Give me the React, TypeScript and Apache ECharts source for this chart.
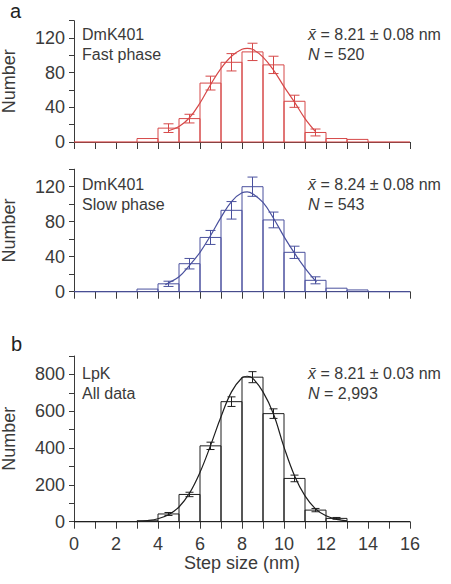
import React, { useEffect, useRef } from "react";
import * as echarts from "echarts";

// Bin edges (nm)
const binEdges = [0, 1, 2, 3, 4, 5, 6, 7, 8, 9, 10, 11, 12, 13, 14, 15, 16];

// Panel a, fast phase
const fastCounts = [0, 0, 0, 4, 16, 27, 68, 92, 104, 89, 47, 11, 4, 3, 0, 0];
const fastErr = [0, 0, 0, 0, 5, 5, 8, 10, 10, 10, 7, 4, 0, 0, 0, 0];
const fastCurveX = [4.5, 5, 5.5, 6, 6.5, 7, 7.5, 8, 8.25, 8.5, 9, 9.5, 10, 10.5, 11, 11.5];
const fastCurveY = [13, 18, 28, 45, 66, 85, 99, 107, 108, 107, 98, 83, 64, 46, 27, 12];

// Panel a, slow phase
const slowCounts = [0, 0, 0, 3, 9, 32, 62, 93, 120, 82, 45, 13, 4, 2, 0, 0];
const slowErr = [0, 0, 0, 0, 3, 6, 8, 10, 11, 9, 7, 4, 0, 0, 0, 0];
const slowCurveX = [4.35, 4.5, 5, 5.5, 6, 6.5, 7, 7.5, 8, 8.25, 8.5, 9, 9.5, 10, 10.5, 11, 11.55];
const slowCurveY = [8, 10, 17, 30, 45, 64, 85, 103, 113, 114, 112, 102, 84, 63, 44, 27, 11];

// Panel b, all data
const allCounts = [0, 0, 0, 5, 42, 148, 412, 652, 785, 587, 235, 63, 18, 0, 0, 0];
const allErr = [0, 0, 0, 0, 8, 12, 20, 26, 30, 26, 18, 9, 5, 0, 0, 0];
const allCurveX = [3, 3.5, 4, 4.5, 5, 5.5, 6, 6.5, 7, 7.5, 8, 8.25, 8.5, 9, 9.5, 10, 10.5, 11, 11.5, 12, 12.5, 13];
const allCurveY = [2, 6, 16, 38, 80, 155, 268, 413, 570, 705, 782, 790, 780, 705, 585, 405, 250, 140, 70, 32, 13, 5];

const xTickLabels = ["0", "2", "4", "6", "8", "10", "12", "14", "16"];

const RED = "#d64848";
const BLUE = "#4a519e";
const BLACK = "#1e1e1e";
const AXIS = "#3a3a3a";
const TEXT = "#3a3a3a";
const FONT = "Liberation Sans, Arial, sans-serif";

function histData(counts: number[]) {
  return counts.map((c, i) => [binEdges[i], binEdges[i + 1], c]);
}
function errData(counts: number[], err: number[]) {
  const out: number[][] = [];
  counts.forEach((c, i) => {
    if (err[i] > 0) out.push([(binEdges[i] + binEdges[i + 1]) / 2, c, err[i]]);
  });
  return out;
}
function curveData(xs: number[], ys: number[]) {
  return xs.map((x, i) => [x, ys[i]]);
}

export default function App() {
  const ref = useRef<HTMLDivElement>(null);
  useEffect(() => {
    if (!ref.current) return;
    const chart = echarts.init(ref.current, undefined, { renderer: "svg" });

    const grids = [
      { left: 74, top: 20.7, width: 336, height: 121.3, containLabel: false, outerBoundsMode: "none" },
      { left: 74, top: 169.2, width: 336, height: 122.5, containLabel: false, outerBoundsMode: "none" },
      { left: 74, top: 356, width: 336, height: 165.7, containLabel: false, outerBoundsMode: "none" },
    ];

    const xAxes = grids.map((_, gi) => ({
      type: "value",
      gridIndex: gi,
      min: 0,
      max: 16,
      interval: 1,
      splitLine: { show: false },
      axisLine: { show: true, lineStyle: { color: AXIS, width: 1 } },
      axisTick: { show: true, inside: false, length: 7, lineStyle: { color: AXIS, width: 1 } },
      axisLabel: {
        show: gi === 2,
        margin: 13,
        color: TEXT,
        fontFamily: FONT,
        fontSize: 18,
        formatter: (v: number) => (xTickLabels.indexOf(String(v)) >= 0 ? String(v) : ""),
      },
      name: gi === 2 ? "Step size (nm)" : "",
      nameLocation: "middle",
      nameGap: 26,
      nameTextStyle: { color: TEXT, fontFamily: FONT, fontSize: 18 },
    }));

    const yMax = [140, 140, 900];
    const yInt = [20, 20, 100];
    const yLab = [40, 40, 200];
    const yAxes = grids.map((_, gi) => ({
      type: "value",
      gridIndex: gi,
      min: 0,
      max: yMax[gi],
      interval: yInt[gi],
      splitLine: { show: false },
      axisLine: { show: true, lineStyle: { color: AXIS, width: 1 } },
      axisTick: { show: true, length: 5, lineStyle: { color: AXIS, width: 1 } },
      axisLabel: {
        margin: 9,
        color: TEXT,
        fontFamily: FONT,
        fontSize: 18,
        formatter: (v: number) => (v % yLab[gi] === 0 ? String(v) : ""),
      },
      name: "Number",
      nameLocation: "middle",
      nameRotate: 90,
      nameGap: 56,
      nameTextStyle: { color: TEXT, fontFamily: FONT, fontSize: 18 },
    }));

    const histSeries = (counts: number[], color: string, gi: number) => ({
      type: "custom",
      xAxisIndex: gi,
      yAxisIndex: gi,
      data: histData(counts),
      encode: { x: [0, 1], y: 2 },
      z: 2,
      renderItem: (_p: any, api: any) => {
        const x0 = api.value(0);
        const x1 = api.value(1);
        const y = api.value(2);
        const a = api.coord([x0, y]);
        const b = api.coord([x1, 0]);
        if (y <= 0) {
          return {
            type: "line",
            shape: { x1: a[0], y1: b[1], x2: b[0], y2: b[1] },
            style: { stroke: color, lineWidth: 1.2 },
          };
        }
        return {
          type: "rect",
          shape: { x: a[0], y: a[1], width: b[0] - a[0], height: b[1] - a[1] },
          style: { fill: "none", stroke: color, lineWidth: 1 },
        };
      },
    });

    const errSeries = (counts: number[], err: number[], color: string, gi: number, cap: number) => ({
      type: "custom",
      xAxisIndex: gi,
      yAxisIndex: gi,
      data: errData(counts, err),
      encode: { x: 0, y: 1 },
      z: 4,
      renderItem: (_p: any, api: any) => {
        const x = api.value(0);
        const y = api.value(1);
        const e = api.value(2);
        const top = api.coord([x, y + e]);
        const bot = api.coord([x, y - e]);
        return {
          type: "group",
          children: [
            { type: "line", shape: { x1: top[0], y1: top[1], x2: bot[0], y2: bot[1] }, style: { stroke: color, lineWidth: 1 } },
            { type: "line", shape: { x1: top[0] - cap, y1: top[1], x2: top[0] + cap, y2: top[1] }, style: { stroke: color, lineWidth: 1 } },
            { type: "line", shape: { x1: bot[0] - cap, y1: bot[1], x2: bot[0] + cap, y2: bot[1] }, style: { stroke: color, lineWidth: 1 } },
          ],
        };
      },
    });

    const lineSeries = (xs: number[], ys: number[], color: string, gi: number) => ({
      type: "line",
      xAxisIndex: gi,
      yAxisIndex: gi,
      data: curveData(xs, ys),
      smooth: 0.4,
      showSymbol: false,
      z: 3,
      lineStyle: { color, width: 1.2 },
    });

    const stat = (x: number, y: number, mean: string, n: string) => [
      {
        type: "text",
        x,
        y,
        style: {
          text: `{i|x\u0304} = ${mean} nm`,
          fill: TEXT,
          font: `16px ${FONT}`,
          verticalAlign: "middle",
          rich: { i: { fontStyle: "italic", fontFamily: FONT, fontSize: 16, fill: TEXT } },
        },
      },
      {
        type: "text",
        x,
        y: y + 20,
        style: {
          text: `{i|N} = ${n}`,
          fill: TEXT,
          font: `16px ${FONT}`,
          verticalAlign: "middle",
          rich: { i: { fontStyle: "italic", fontFamily: FONT, fontSize: 16, fill: TEXT } },
        },
      },
    ];

    chart.setOption({
      animation: false,
      backgroundColor: "#ffffff",
      grid: grids,
      xAxis: xAxes,
      yAxis: yAxes,
      series: [
        histSeries(fastCounts, RED, 0),
        lineSeries(fastCurveX, fastCurveY, RED, 0),
        errSeries(fastCounts, fastErr, RED, 0, 5),
        histSeries(slowCounts, BLUE, 1),
        lineSeries(slowCurveX, slowCurveY, BLUE, 1),
        errSeries(slowCounts, slowErr, BLUE, 1, 5),
        histSeries(allCounts, BLACK, 2),
        lineSeries(allCurveX, allCurveY, BLACK, 2),
        errSeries(allCounts, allErr, BLACK, 2, 4),
      ],
      graphic: [
        { type: "text", x: 10, y: 1, style: { text: "a", fill: "#222", font: `20px ${FONT}` } },
        { type: "text", x: 11, y: 334, style: { text: "b", fill: "#222", font: `20px ${FONT}` } },
        { type: "text", x: 82, y: 24, style: { text: "DmK401\nFast phase", fill: TEXT, font: `16px ${FONT}`, lineHeight: 20 } },
        { type: "text", x: 82, y: 174, style: { text: "DmK401\nSlow phase", fill: TEXT, font: `16px ${FONT}`, lineHeight: 20 } },
        { type: "text", x: 82, y: 363, style: { text: "LpK\nAll data", fill: TEXT, font: `16px ${FONT}`, lineHeight: 20 } },
        ...stat(308, 34, "8.21 \u00b1 0.08", "520"),
        ...stat(308, 184, "8.24 \u00b1 0.08", "543"),
        ...stat(308, 373, "8.21 \u00b1 0.03", "2,993"),
      ],
    });
    return () => chart.dispose();
  }, []);
  return <div ref={ref} style={{ position: "fixed", left: 0, top: 0, width: 451, height: 584 }} />;
}
